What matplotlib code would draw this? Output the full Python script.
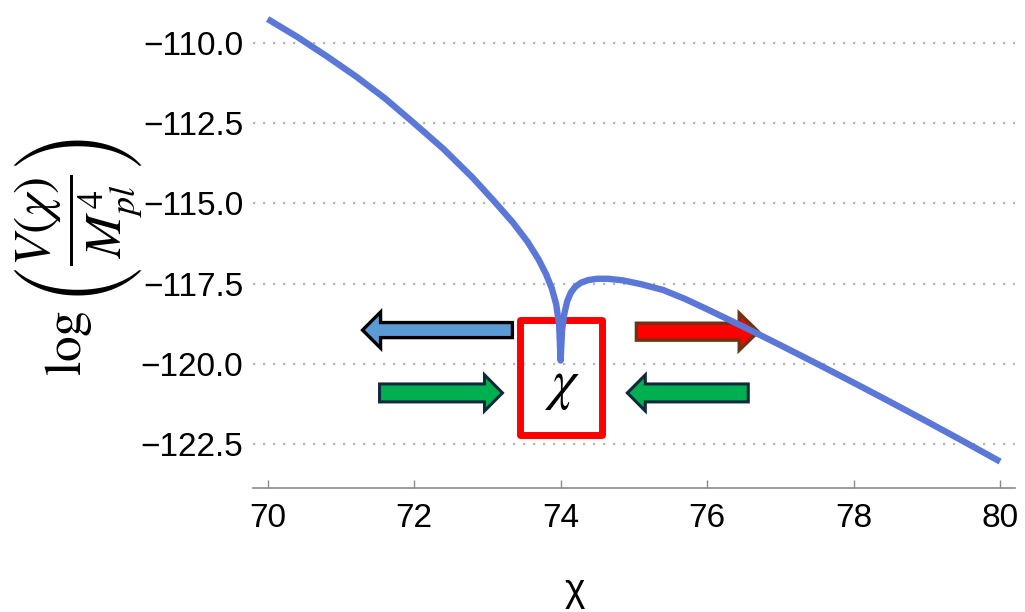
import numpy as np
import matplotlib
matplotlib.use("Agg")
import matplotlib.pyplot as plt
from matplotlib.patches import FancyArrow, Rectangle

# potential log10(V/Mpl^4) vs field value chi
chi = [70.0, 70.4, 70.8, 71.2, 71.6, 72.0, 72.4, 72.8, 73.1, 73.35, 73.55,
       73.7, 73.8, 73.88, 73.94, 73.98, 74.0,
       74.02, 74.05, 74.09, 74.14, 74.2, 74.28, 74.38, 74.5, 74.65, 74.85,
       75.1, 75.4, 75.7, 76.0, 76.5, 77.0, 77.5, 78.0, 78.5, 79.0, 79.5, 80.0]
log_v = [-109.25, -109.8, -110.4, -111.03, -111.72, -112.5, -113.3, -114.2,
         -114.95, -115.6, -116.2, -116.75, -117.2, -117.65, -118.15, -118.8,
         -119.9,
         -118.95, -118.45, -118.05, -117.78, -117.6, -117.47, -117.39, -117.35,
         -117.35, -117.4, -117.52, -117.7, -117.98, -118.3, -118.85, -119.42,
         -120.0, -120.59, -121.19, -121.8, -122.42, -123.05]

x_ticks = [70, 72, 74, 76, 78, 80]
y_ticks = [-110.0, -112.5, -115.0, -117.5, -120.0, -122.5]

plt.rcParams['font.family'] = "Liberation Sans"
plt.rcParams['mathtext.fontset'] = "stix"

fig = plt.figure(figsize=(10.25, 6.12), dpi=100)
ax = fig.add_axes([0.2468, 0.2026, 0.7432, 0.781])

ax.plot(chi, log_v, color="#5b78d8", lw=4.6, solid_capstyle="butt",
        solid_joinstyle="round", zorder=5)

ax.set_xlim(69.8, 80.2)
ax.set_ylim(-123.875, -108.97)
ax.set_xticks(x_ticks)
ax.set_xticklabels([str(t) for t in x_ticks])
ax.set_yticks(y_ticks)
ax.set_yticklabels([f"\u2212{abs(t):.1f}" for t in y_ticks])

for s in ["top", "right", "left"]:
    ax.spines[s].set_visible(False)
ax.spines["bottom"].set_color("#8a8a8a")
ax.spines["bottom"].set_linewidth(1.2)
ax.tick_params(axis="x", direction="in", length=6, width=1, color="#8a8a8a",
               labelsize=24, pad=11)
ax.tick_params(axis="y", length=0, labelsize=24, pad=7)
ax.grid(axis="y", color="#b5b5b5", linestyle=(0, (1, 3.5)), linewidth=1.6)

# arrows and box around the minimum
ax.add_patch(FancyArrow(73.342, -118.95, -2.046, 0, width=0.47, head_width=1.125,
                        head_length=0.246, length_includes_head=True,
                        facecolor="#5b9bd5", edgecolor="black", lw=2.4, zorder=3))
ax.add_patch(FancyArrow(75.034, -119.0, 1.664, 0, width=0.53, head_width=1.16,
                        head_length=0.26, length_includes_head=True,
                        facecolor="#ff0000", edgecolor="#6e3214", lw=2.4, zorder=3))
ax.add_patch(FancyArrow(71.528, -120.91, 1.678, 0, width=0.56, head_width=1.125,
                        head_length=0.245, length_includes_head=True,
                        facecolor="#00b050", edgecolor="#102a3c", lw=2.2, zorder=3))
ax.add_patch(FancyArrow(76.562, -120.91, -1.651, 0, width=0.56, head_width=1.125,
                        head_length=0.245, length_includes_head=True,
                        facecolor="#00b050", edgecolor="#102a3c", lw=2.2, zorder=3))
ax.add_patch(Rectangle((73.452, -122.22), 1.118, 3.595, fill=False,
                       edgecolor="#ff0000", lw=5, joinstyle="round", zorder=4))
ax.text(74.01, -120.69, r"$\chi$", fontsize=40, ha="center", va="center", zorder=4)

fig.text(0.076, 0.58, r"$\log\left(\dfrac{V(\chi)}{M_{pl}^4}\right)$", rotation=90,
         fontsize=37, ha="center", va="center")
fig.text(0.561, 0.035, "\u03c7", fontsize=28, ha="center", va="center")

fig.savefig("out.png", dpi=100)
